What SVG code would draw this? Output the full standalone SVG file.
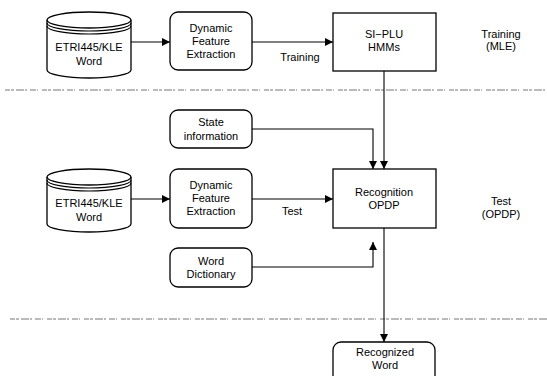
<svg xmlns="http://www.w3.org/2000/svg" width="547" height="376" viewBox="0 0 547 376">
<defs>
<marker id="ah" viewBox="0 0 10 10" refX="10" refY="5" markerWidth="8" markerHeight="8" markerUnits="userSpaceOnUse" orient="auto">
<path d="M0,0 L10,5 L0,10 z" fill="#000"/>
</marker>
<style>
.bx{fill:#fff;stroke:#000;stroke-width:1.3}
.t{font-family:"Liberation Sans",Arial,sans-serif;font-size:11px;fill:#000;text-anchor:middle}
.c{fill:none;stroke:#000;stroke-width:1.1}
.d{fill:none;stroke:#666;stroke-width:0.9;stroke-dasharray:5 1 3 2 8 1 2 3 6 1 1 4}
</style>
</defs>
<rect width="547" height="376" fill="#fff"/>
<g id="separators">
<line class="d" x1="5" y1="90" x2="547" y2="90"/>
<line class="d" x1="10" y1="319" x2="547" y2="319"/>
</g>
<g id="connectors">
<line class="c" x1="131" y1="42" x2="170" y2="42" marker-end="url(#ah)"/>
<line class="c" x1="252" y1="42" x2="333" y2="42" marker-end="url(#ah)"/>
<line class="c" x1="384" y1="71" x2="384" y2="169" marker-end="url(#ah)"/>
<polyline class="c" points="252,129 373,129 373,169" marker-end="url(#ah)"/>
<line class="c" x1="131" y1="199" x2="170" y2="199" marker-end="url(#ah)"/>
<line class="c" x1="252" y1="199" x2="333" y2="199" marker-end="url(#ah)"/>
<polyline class="c" points="252,267 373,267 373,242" marker-end="url(#ah)"/>
<line class="c" x1="384" y1="228" x2="384" y2="342" marker-end="url(#ah)"/>
<text class="t" x="300" y="61">Training</text>
<text class="t" x="292" y="215">Test</text>
</g>
<g id="db1">
<path class="bx" d="M47,20 L47,70 A42,8 0 0 0 131,70 L131,20"/>
<ellipse class="bx" cx="89" cy="20" rx="42" ry="8"/>
<path class="c" d="M47,23 A42,8 0 0 0 131,23 M47,26 A42,8 0 0 0 131,26"/>
<text class="t" x="89" y="51">ETRI445/KLE</text>
<text class="t" x="89" y="65">Word</text>
</g>
<g id="dfe1">
<rect class="bx" x="170" y="12" width="82" height="58" rx="8"/>
<text class="t" x="211" y="32">Dynamic</text>
<text class="t" x="211" y="45">Feature</text>
<text class="t" x="211" y="58">Extraction</text>
</g>
<g id="hmm">
<rect class="bx" x="333" y="13" width="103" height="58"/>
<text class="t" x="384" y="38">SI−PLU</text>
<text class="t" x="384" y="51">HMMs</text>
</g>
<g id="label-training">
<text class="t" x="501" y="38">Training</text>
<text class="t" x="501" y="50">(MLE)</text>
</g>
<g id="state">
<rect class="bx" x="170" y="110" width="82" height="38" rx="8"/>
<text class="t" x="211" y="126">State</text>
<text class="t" x="211" y="140">information</text>
</g>
<g id="db2">
<path class="bx" d="M47,177 L47,224 A42,8 0 0 0 131,224 L131,177"/>
<ellipse class="bx" cx="89" cy="177" rx="42" ry="8"/>
<path class="c" d="M47,180 A42,8 0 0 0 131,180 M47,183 A42,8 0 0 0 131,183"/>
<text class="t" x="89" y="207">ETRI445/KLE</text>
<text class="t" x="89" y="221">Word</text>
</g>
<g id="dfe2">
<rect class="bx" x="170" y="169" width="82" height="59" rx="8"/>
<text class="t" x="211" y="189">Dynamic</text>
<text class="t" x="211" y="202">Feature</text>
<text class="t" x="211" y="215">Extraction</text>
</g>
<g id="recog">
<rect class="bx" x="333" y="169" width="103" height="59"/>
<text class="t" x="384" y="196">Recognition</text>
<text class="t" x="384" y="209">OPDP</text>
</g>
<g id="label-test">
<text class="t" x="501" y="205">Test</text>
<text class="t" x="501" y="218">(OPDP)</text>
</g>
<g id="dict">
<rect class="bx" x="170" y="248" width="82" height="39" rx="8"/>
<text class="t" x="211" y="265">Word</text>
<text class="t" x="211" y="278">Dictionary</text>
</g>
<g id="result">
<rect class="bx" x="333" y="342" width="102" height="44" rx="8"/>
<text class="t" x="385" y="356">Recognized</text>
<text class="t" x="385" y="369">Word</text>
</g>
</svg>
